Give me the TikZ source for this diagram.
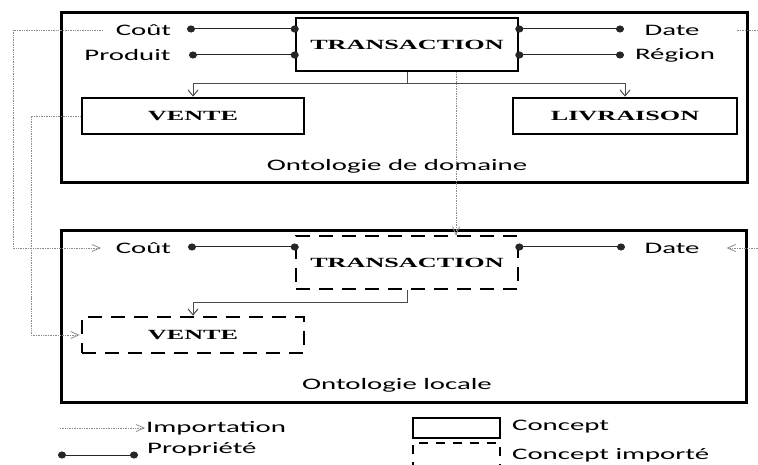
\documentclass[tikz,border=0pt]{standalone}
\usepackage{fontspec}
\setmainfont{Liberation Serif}
\newfontfamily\labfont{Carlito}
\usetikzlibrary{arrows.meta}
\newcommand{\wx}[1]{\scalebox{1.8}[1]{#1}}
\newcommand{\wb}[1]{\scalebox{1.87}[1]{#1}}
\begin{document}
\begin{tikzpicture}[x=1pt,y=-1pt,
  ontobox/.style={draw, line width=3pt, inner sep=0pt},
  concept/.style={draw, line width=2.6pt, inner sep=0pt, minimum width=222pt,
    font=\bfseries\fontsize{14}{14}\selectfont},
  imported/.style={concept, dash pattern=on 14pt off 9pt},
  lab/.style={inner sep=0pt, font=\labfont\fontsize{16}{16}\selectfont},
  prop/.style={line width=1pt, black!85,
    {Circle[length=8pt,width=7pt]}-{Circle[length=8pt,width=7pt]},
    shorten <=-4pt, shorten >=-4pt},
  tree/.style={line width=1pt, black!70, -{Straight Barb[length=6pt,width=10pt,line width=1pt]}},
  imp/.style={line width=0.8pt, black!45, dash pattern=on 1pt off 0.7pt},
  impa/.style={imp, -{Straight Barb[length=8pt,width=7pt,line width=0.8pt]}}
]
\clip (0,0) rectangle (758,465);
\useasboundingbox (0,0) rectangle (758,465);

% ontology frames
\node[ontobox, minimum width=686pt, minimum height=170pt] (ontoA) at (404,98) {};
\node[ontobox, minimum width=685pt, minimum height=171pt] (ontoB) at (403.5,316.5) {};
\node[lab] (ontoAlab) at (397,166) {\wx{Ontologie de domaine}};
\node[lab] (ontoBlab) at (397,385) {\wx{Ontologie locale}};

% domain ontology concepts
\node[concept, minimum height=53pt] (trA) at (407,44.5) {\wb{TRANSACTION}};
\node[concept, minimum height=36pt] (venteA) at (193,116) {\wb{VENTE}};
\node[concept, minimum height=36pt, minimum width=224pt] (livA) at (625,116) {\wb{LIVRAISON}};

% local ontology concepts
\node[imported, minimum height=53pt] (trB) at (407,262.5) {\wb{TRANSACTION}};
\node[imported, minimum height=36pt] (venteB) at (193,335) {\wb{VENTE}};

% property labels
\node[lab] (coutA) at (143.5,30) {\wx{Coût}};
\node[lab] (prodA) at (127.5,55) {\wx{Produit}};
\node[lab] (dateA) at (672,30) {\wx{Date}};
\node[lab] (regA) at (675,55) {\wx{Région}};
\node[lab] (coutB) at (143.5,248) {\wx{Coût}};
\node[lab] (dateB) at (672,248) {\wx{Date}};

% property connectors
\coordinate (pcoutA) at (191,29);
\coordinate (pprodA) at (193,55);
\coordinate (pdateA) at (620,29);
\coordinate (pregA) at (620,55);
\coordinate (pcoutB) at (192,247);
\coordinate (pdateB) at (621,247);
\draw[prop] (pcoutA) -- (trA.west |- pcoutA);
\draw[prop] (pprodA) -- (trA.west |- pprodA);
\draw[prop] (trA.east |- pdateA) -- (pdateA);
\draw[prop] (trA.east |- pregA) -- (pregA);
\draw[prop] (pcoutB) -- (trB.west |- pcoutB);
\draw[prop] (trB.east |- pdateB) -- (pdateB);

% hierarchy connectors
\coordinate (hA) at (0,84);
\coordinate (hB) at (0,302);
\draw[tree] (trA.south) -- (trA.south |- hA) -| (venteA.north);
\draw[tree] (trA.south) -- (trA.south |- hA) -| (livA.north);
\draw[tree] (trB.south) -- (trB.south |- hB) -| (venteB.north);

% importation connectors
\coordinate (impStartA) at (103,30);
\coordinate (impEndB) at (101,248);
\coordinate (cornerA) at (13,30);
\coordinate (cornerB) at (13,248);
\coordinate (cornerC) at (31,116);
\coordinate (cornerD) at (31,335);
\coordinate (xm) at (456,0);
\coordinate (xr) at (760,0);
\draw[impa] (impStartA) -- (cornerA) -- (cornerB) -- (impEndB);
\draw[impa] (venteA.west) -- (cornerC) -- (cornerD) -- ([xshift=-1pt]venteB.west);
\draw[impa] (trA.south -| xm) -- ([yshift=-1pt]trB.north -| xm);
\draw[imp] ([xshift=37pt]dateA.east) -- (dateA.east -| xr);
\draw[impa] (dateB.east -| xr) -- ([xshift=27pt]dateB.east);

% legend
\coordinate (lgI1) at (60,428);
\coordinate (lgI2) at (145,428);
\draw[impa] (lgI1) -- (lgI2);
\node[lab, anchor=west] (lgItxt) at (146,428) {\wx{Importation}};
\coordinate (lgP1) at (62,455);
\coordinate (lgP2) at (134,455);
\draw[prop] (lgP1) -- (lgP2);
\node[lab, anchor=west] (lgPtxt) at (147,449) {\wx{Propriété}};
\node[draw, line width=2.6pt, inner sep=0pt, minimum width=87pt, minimum height=20pt] (lgC) at (456.5,428) {};
\node[lab, anchor=west] (lgCtxt) at (512,427) {\wx{Concept}};
\node[draw, line width=2.6pt, dash pattern=on 9pt off 8pt, inner sep=0pt, minimum width=87pt, minimum height=28pt] (lgD) at (456.5,457) {};
\node[lab, anchor=west] (lgDtxt) at (512,455) {\wx{Concept importé}};
\end{tikzpicture}
\end{document}
